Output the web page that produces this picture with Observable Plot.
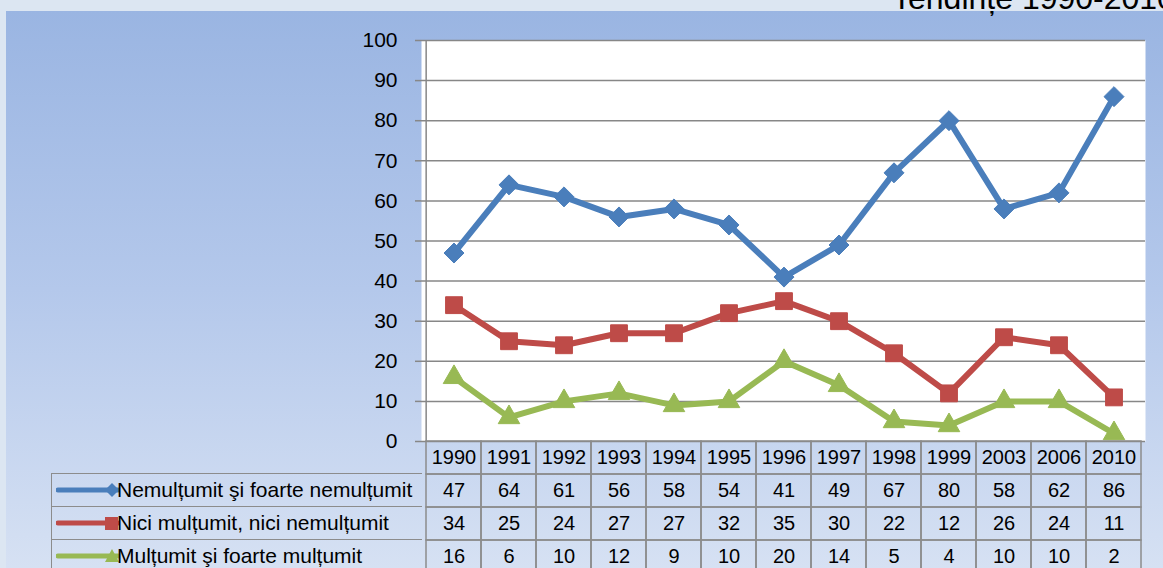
<!DOCTYPE html>
<html>
<head>
<meta charset="utf-8">
<script src="https://cdn.jsdelivr.net/npm/d3@7"></script>
<script src="https://cdn.jsdelivr.net/npm/@observablehq/plot@0.6"></script>
<style>
  html, body { margin: 0; padding: 0; }
  body { width: 1163px; height: 568px; overflow: hidden; font-family: "Liberation Sans", Arial, sans-serif; }
  #root { position: relative; width: 1163px; height: 568px; overflow: hidden; background: #dce6f2; }
  #bg { position: absolute; left: 6px; top: 11px; right: 0; bottom: 0; background: linear-gradient(#9ab5e2 0%, #b4c8eb 50%, #d6e1f3 100%); }
  #title { position: absolute; left: 892px; top: -18px; font-size: 32px; line-height: 32px; white-space: nowrap; color: #000; }
  .abs { position: absolute; left: 0; }
  .leg { position: absolute; left: 51px; width: 370px; height: 31.5px; border: 1.5px solid #8c8c8c; border-right: none; font-size: 21px; color: #000; }
  .leg svg { position: absolute; left: 4px; top: 0; }
  .leg span { position: absolute; left: 65px; top: 4px; white-space: nowrap; }
</style>
</head>
<body>
<div id="root">
  <div id="bg"></div>
  <div id="title">Tendințe 1990-2010</div>
  <div id="chart" class="abs" style="top:0"></div>
  <div id="table" class="abs" style="top:441px"></div>
  <div id="legend"></div>
</div>
<script>
const years = ["1990","1991","1992","1993","1994","1995","1996","1997","1998","1999","2003","2006","2010"];
const nemultumit = [47,64,61,56,58,54,41,49,67,80,58,62,86];
const nici = [34,25,24,27,27,32,35,30,22,12,26,24,11];
const multumit = [16,6,10,12,9,10,20,14,5,4,10,10,2];
const seriesNames = ["Nemulțumit şi foarte nemulțumit", "Nici mulțumit, nici nemulțumit", "Mulțumit şi foarte mulțumit"];
const seriesValues = [nemultumit, nici, multumit];
const seriesColors = ["#4a7ebb", "#be4b48", "#98b954"];
const seriesSymbols = ["diamond2", "square", "triangle"];
const seriesR = [9, 9.5, 8];
const yTicks = [0,10,20,30,40,50,60,70,80,90,100];

const W = 1163, ML = 421, MR = 18;
const bw = (W - ML - MR) / years.length;

const data = [];
seriesNames.forEach((s, si) => years.forEach((yr, i) => data.push({series: s, year: yr, value: seriesValues[si][i]})));

const chart = Plot.plot({
  width: W, height: 445, marginTop: 40, marginBottom: 4, marginLeft: ML, marginRight: MR,
  style: {background: "transparent", overflow: "visible", fontFamily: "Liberation Sans, Arial, sans-serif", color: "#000"},
  x: {type: "band", domain: years, padding: 0, axis: null},
  y: {domain: [0, 100], axis: null},
  color: {domain: seriesNames, range: seriesColors},
  marks: [
    Plot.frame({fill: "white", stroke: null}),
    Plot.ruleY(yTicks, {stroke: "#878787", strokeWidth: 1.5}),
    Plot.axisY({ticks: yTicks, label: null, tickSize: 6, tickPadding: 18, fontSize: 21, stroke: "#878787", strokeWidth: 1.5, fill: "#000"}),
    Plot.ruleX([years[0]], {dx: -bw / 2, y1: 0, y2: 100, stroke: "#878787", strokeWidth: 1.5}),
    Plot.line(data, {x: "year", y: "value", z: "series", stroke: "series", strokeWidth: 6, strokeLinejoin: "round"}),
    ...seriesNames.map((s, si) => Plot.dot(data.filter(d => d.series === s), {
      x: "year", y: "value", symbol: () => seriesSymbols[si], fill: seriesColors[si], r: seriesR[si], stroke: seriesColors[si], strokeWidth: 1, clip: true
    }))
  ]
});
document.getElementById("chart").appendChild(chart);

const rows = ["header", ...seriesNames];
const cells = [];
years.forEach(yr => cells.push({year: yr, row: "header", label: yr}));
seriesNames.forEach((s, si) => years.forEach((yr, i) => cells.push({year: yr, row: s, label: String(seriesValues[si][i])})));

const table = Plot.plot({
  width: W, height: 132, marginTop: 0, marginBottom: 0, marginLeft: ML, marginRight: MR,
  style: {background: "transparent", overflow: "visible", fontFamily: "Liberation Sans, Arial, sans-serif", color: "#000"},
  x: {type: "band", domain: years, padding: 0, axis: null},
  y: {type: "band", domain: rows, padding: 0, axis: null},
  marks: [
    Plot.cell(cells, {x: "year", y: "row", fill: "none", stroke: "#8c8c8c", strokeWidth: 1.5}),
    Plot.text(cells, {x: "year", y: "row", text: "label", fontSize: 20, fill: "#000"})
  ]
});
document.getElementById("table").appendChild(table);

// legend column of the data table
const legend = document.getElementById("legend");
seriesNames.forEach((s, si) => {
  const div = document.createElement("div");
  div.className = "leg";
  div.style.top = (473 + si * 33) + "px";
  const c = seriesColors[si];
  let marker = "";
  if (si === 0) marker = `<path d="M56,9 L63,16 L56,23 L49,16 Z" fill="${c}"/>`;
  if (si === 1) marker = `<rect x="49" y="10" width="13" height="13" fill="${c}"/>`;
  if (si === 2) marker = `<path d="M56,9 L63,22 L49,22 Z" fill="${c}"/>`;
  div.innerHTML = `<svg width="64" height="32"><line x1="2" y1="16" x2="62" y2="16" stroke="${c}" stroke-width="5" stroke-linecap="round"/>${marker}</svg><span>${s}</span>`;
  legend.appendChild(div);
});
</script>
</body>
</html>
